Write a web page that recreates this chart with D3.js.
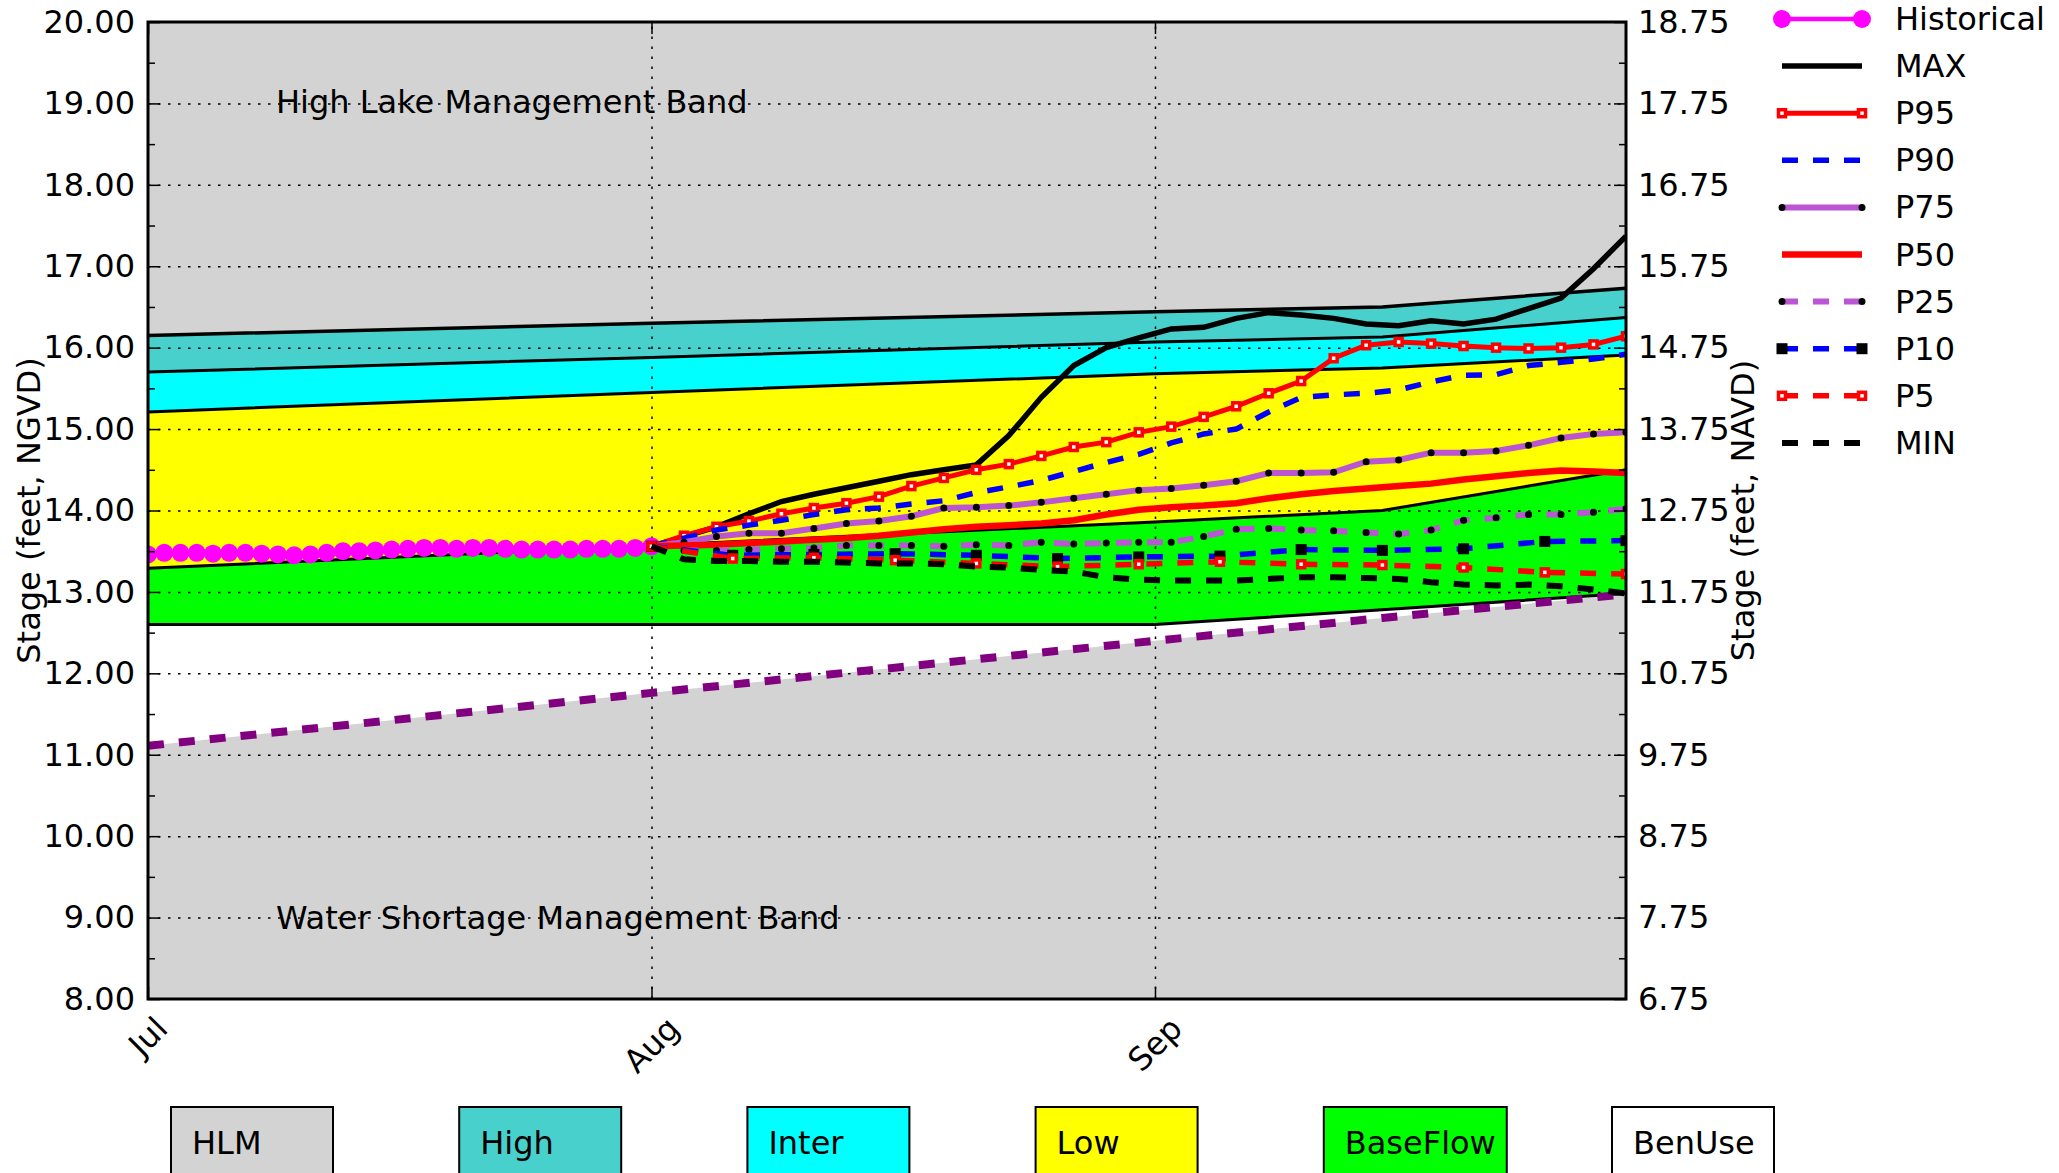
<!DOCTYPE html>
<html>
<head>
<meta charset="utf-8">
<script src="https://cdn.jsdelivr.net/npm/d3@7"></script>
<style>
  body { margin: 0; background: #fff; }
  svg { display: block; font-family: "DejaVu Sans", sans-serif; }
</style>
</head>
<body>
<div id="stage-chart"></div>
<script>
// ---- Data ----
var histStart = new Date(2019, 6, 1);   // Jul 1, daily
var fcstStart = new Date(2019, 7, 1);   // Aug 1

var historical = [13.46, 13.48, 13.48, 13.48, 13.47, 13.48, 13.48, 13.47, 13.46, 13.45, 13.46,
    13.48, 13.50, 13.50, 13.51, 13.52, 13.53, 13.54, 13.54, 13.53, 13.54, 13.54, 13.53, 13.52,
    13.52, 13.52, 13.52, 13.53, 13.53, 13.53, 13.54, 13.56];

// every 2 days from Aug 1
var maxStage = [13.56, 13.68, 13.80, 13.96, 14.11, 14.20, 14.28, 14.36, 14.44, 14.50, 14.56,
    14.92, 15.39, 15.78, 16.00, 16.12, 16.23, 16.25, 16.36, 16.43, 16.40, 16.36, 16.29, 16.27,
    16.33, 16.29, 16.35, 16.48, 16.61, 16.97, 17.37];
var p95 = [13.56, 13.69, 13.80, 13.87, 13.96, 14.03, 14.09, 14.17, 14.30, 14.40, 14.50, 14.57,
    14.67, 14.78, 14.84, 14.96, 15.03, 15.15, 15.28, 15.44, 15.59, 15.87, 16.03, 16.07, 16.05,
    16.02, 16.00, 15.99, 16.00, 16.04, 16.14];
var p90 = [13.56, 13.66, 13.76, 13.82, 13.88, 13.95, 14.01, 14.03, 14.08, 14.12, 14.22, 14.29,
    14.37, 14.48, 14.59, 14.69, 14.83, 14.94, 15.00, 15.21, 15.39, 15.42, 15.44, 15.48, 15.58,
    15.66, 15.67, 15.78, 15.82, 15.86, 15.92];
var p75 = [13.56, 13.61, 13.68, 13.72, 13.72, 13.78, 13.84, 13.87, 13.93, 14.03, 14.04, 14.06,
    14.10, 14.15, 14.20, 14.25, 14.27, 14.31, 14.36, 14.46, 14.46, 14.47, 14.60, 14.62, 14.71,
    14.71, 14.73, 14.80, 14.89, 14.94, 14.96];
var p50 = [13.56, 13.57, 13.58, 13.60, 13.62, 13.64, 13.66, 13.69, 13.73, 13.77, 13.80, 13.82,
    13.84, 13.88, 13.95, 14.01, 14.04, 14.06, 14.09, 14.15, 14.20, 14.24, 14.27, 14.30, 14.33,
    14.38, 14.42, 14.46, 14.49, 14.48, 14.46];
var p25 = [13.56, 13.51, 13.51, 13.52, 13.53, 13.54, 13.57, 13.57, 13.57, 13.56, 13.58, 13.57,
    13.61, 13.59, 13.60, 13.61, 13.61, 13.68, 13.77, 13.78, 13.76, 13.75, 13.73, 13.71, 13.76,
    13.88, 13.91, 13.95, 13.95, 13.98, 14.02];
var minStage = [13.56, 13.40, 13.38, 13.38, 13.37, 13.37, 13.36, 13.35, 13.35, 13.34, 13.31,
    13.30, 13.27, 13.25, 13.18, 13.15, 13.14, 13.14, 13.14, 13.16, 13.18, 13.18, 13.17, 13.16,
    13.12, 13.09, 13.08, 13.09, 13.07, 13.03, 12.98];

// every 5 days from Aug 1
var p10 = [13.56, 13.45, 13.46, 13.47, 13.45, 13.41, 13.43, 13.44, 13.52, 13.51, 13.53, 13.62, 13.63];
var p5 = [13.56, 13.41, 13.42, 13.39, 13.35, 13.31, 13.34, 13.37, 13.34, 13.33, 13.30, 13.24, 13.22];

// band boundaries
var bandDates = ["2019-07-01", "2019-08-01", "2019-09-01", "2019-09-15", "2019-09-30"];
var hlmLine = [16.15, 16.30, 16.44, 16.50, 16.73];
var highLine = [15.70, 15.88, 16.07, 16.13, 16.37];
var interLine = [15.21, 15.45, 15.68, 15.75, 15.91];
var lowLine = [13.29, 13.57, 13.86, 14.00, 14.50];
var baseLine = [12.60, 12.60, 12.60, 12.78, 12.98];
var benUseLine = [11.11, 11.76, 12.40, 12.68, 12.97];

var monthTicks = ["2019-07-01", "2019-08-01", "2019-09-01"];
var monthLabels = ["Jul", "Aug", "Sep"];
var leftTicks = [8, 9, 10, 11, 12, 13, 14, 15, 16, 17, 18, 19, 20];
var rightTicks = [6.75, 7.75, 8.75, 9.75, 10.75, 11.75, 12.75, 13.75, 14.75, 15.75, 16.75, 17.75, 18.75];

var bandNames = ["HLM", "High", "Inter", "Low", "BaseFlow", "BenUse"];
var bandColors = ["#d3d3d3", "#48d1cc", "#00ffff", "#ffff00", "#00ff00", "#ffffff"];

var seriesNames = ["Historical", "MAX", "P95", "P90", "P75", "P50", "P25", "P10", "P5", "MIN"];

// ---- Layout ----
var W = 2059, H = 1173;
var margin = {top: 22, right: 433, bottom: 174, left: 148},
    width = W - margin.left - margin.right,
    height = H - margin.top - margin.bottom;
var FS = 32;

var svg = d3.select("#stage-chart")
    .append("svg")
    .attr("width", W)
    .attr("height", H);

var g = svg.append("g")
    .attr("transform", "translate(" + margin.left + "," + margin.top + ")");

var parse = d3.timeParse("%Y-%m-%d");

var x = d3.scaleTime()
    .domain([parse("2019-07-01"), parse("2019-09-30")])
    .range([0, width]);
var y = d3.scaleLinear().domain([8, 20]).range([height, 0]);
var yR = d3.scaleLinear().domain([6.75, 18.75]).range([height, 0]);

// ---- Bands ----
var bandRows = bandDates.map(function (d, i) {
    return {date: parse(d), lines: [20, hlmLine[i], highLine[i], interLine[i], lowLine[i], baseLine[i], benUseLine[i], 8]};
});
var fillColors = bandColors.concat(["#d3d3d3"]);

fillColors.forEach(function (c, k) {
    var area = d3.area()
        .x(function (d) { return x(d.date); })
        .y0(function (d) { return y(d.lines[k + 1]); })
        .y1(function (d) { return y(d.lines[k]); });
    g.append("path").datum(bandRows).attr("d", area).attr("fill", c).attr("stroke", "none");
});

// grid
g.append("g")
    .call(d3.axisLeft(y).tickValues(leftTicks.slice(1, -1)).tickSize(-width).tickFormat(""))
    .call(function (s) { s.select(".domain").remove(); })
    .selectAll("line")
    .attr("stroke", "#000").attr("stroke-width", 1.5).attr("stroke-dasharray", "2.5,7.5");
g.append("g")
    .attr("transform", "translate(0," + height + ")")
    .call(d3.axisBottom(x).tickValues(monthTicks.slice(1).map(parse)).tickSize(-height).tickFormat(""))
    .call(function (s) { s.select(".domain").remove(); })
    .selectAll("line")
    .attr("stroke", "#000").attr("stroke-width", 1.5).attr("stroke-dasharray", "2.5,7.5");

// boundary lines
[1, 2, 3, 4, 5].forEach(function (k) {
    var line = d3.line()
        .x(function (d) { return x(d.date); })
        .y(function (d) { return y(d.lines[k]); });
    g.append("path").datum(bandRows).attr("d", line)
        .attr("fill", "none").attr("stroke", "#000").attr("stroke-width", k === 1 ? 3.5 : 3);
});
g.append("path").datum(bandRows)
    .attr("d", d3.line().x(function (d) { return x(d.date); }).y(function (d) { return y(d.lines[6]); }))
    .attr("fill", "none").attr("stroke", "#800080").attr("stroke-width", 8).attr("stroke-dasharray", "16,15");

// annotations
g.append("text").attr("x", 128).attr("y", 80).attr("font-size", FS)
    .attr("dominant-baseline", "central").text("High Lake Management Band");
g.append("text").attr("x", 128).attr("y", 896).attr("font-size", FS)
    .attr("dominant-baseline", "central").text("Water Shortage Management Band");

// ---- Series ----
var styles = {
    "Historical": {color: "#ff00ff", w: 4.5, dash: null, marker: "circle"},
    "MAX": {color: "#000", w: 5.5, dash: null, marker: null},
    "P95": {color: "#ff0000", w: 5, dash: null, marker: "sqOpen"},
    "P90": {color: "#0000ff", w: 5.5, dash: "16,15", marker: null},
    "P75": {color: "#ba55d3", w: 6, dash: null, marker: "dot"},
    "P50": {color: "#ff0000", w: 6.5, dash: null, marker: null},
    "P25": {color: "#ba55d3", w: 6, dash: "16,15", marker: "dot"},
    "P10": {color: "#0000ff", w: 5.5, dash: "16,15", marker: "sqBlack"},
    "P5": {color: "#ff0000", w: 5.5, dash: "16,15", marker: "sqOpen"},
    "MIN": {color: "#000", w: 6, dash: "16,15", marker: null}
};

function toPoints(values, start, step) {
    return values.map(function (v, i) {
        return {date: d3.timeDay.offset(start, i * step), value: v};
    });
}

var seriesData = {
    "Historical": toPoints(historical, histStart, 1),
    "MAX": toPoints(maxStage, fcstStart, 2),
    "P95": toPoints(p95, fcstStart, 2),
    "P90": toPoints(p90, fcstStart, 2),
    "P75": toPoints(p75, fcstStart, 2),
    "P50": toPoints(p50, fcstStart, 2),
    "P25": toPoints(p25, fcstStart, 2),
    "P10": toPoints(p10, fcstStart, 5),
    "P5": toPoints(p5, fcstStart, 5),
    "MIN": toPoints(minStage, fcstStart, 2)
};

function drawMarker(sel, type, color) {
    if (type === "circle") {
        sel.append("circle").attr("r", 9).attr("fill", color);
    } else if (type === "dot") {
        sel.append("circle").attr("r", 3.5).attr("fill", "#000");
    } else if (type === "sqOpen") {
        sel.append("rect").attr("x", -3.5).attr("y", -3.5).attr("width", 7).attr("height", 7)
            .attr("fill", "#fff").attr("stroke", color).attr("stroke-width", 3.5);
    } else if (type === "sqBlack") {
        sel.append("rect").attr("x", -5.5).attr("y", -5.5).attr("width", 11).attr("height", 11)
            .attr("fill", "#000");
    }
}

g.append("clipPath").attr("id", "plot-clip")
    .append("rect").attr("width", width).attr("height", height);
var plot = g.append("g").attr("clip-path", "url(#plot-clip)");

var lineGen = d3.line()
    .x(function (d) { return x(d.date); })
    .y(function (d) { return y(d.value); });

seriesNames.forEach(function (name) {
    var st = styles[name];
    plot.append("path").datum(seriesData[name])
        .attr("d", lineGen)
        .attr("fill", "none")
        .attr("stroke", st.color)
        .attr("stroke-width", st.w)
        .attr("stroke-dasharray", st.dash);
    if (st.marker) {
        plot.selectAll(null).data(seriesData[name]).enter()
            .append("g")
            .attr("transform", function (d) { return "translate(" + x(d.date) + "," + y(d.value) + ")"; })
            .each(function () { drawMarker(d3.select(this), st.marker, st.color); });
    }
});

// ---- Axes ----
var minorLeft = d3.range(8.5, 20, 1);
var minorRight = d3.range(7.25, 18.75, 1);

function styleAxis(s) {
    s.select(".domain").remove();
    s.selectAll("line").attr("stroke", "#000").attr("stroke-width", 1.5);
    s.selectAll("text").attr("font-size", FS).attr("fill", "#000").attr("font-family", "DejaVu Sans");
}

g.append("g")
    .call(d3.axisLeft(y).tickValues(leftTicks).tickSize(-12).tickPadding(13)
        .tickFormat(d3.format(".2f")))
    .call(styleAxis);
g.append("g")
    .call(d3.axisLeft(y).tickValues(minorLeft).tickSize(-7).tickFormat(""))
    .call(styleAxis);
g.append("g")
    .attr("transform", "translate(" + width + ",0)")
    .call(d3.axisRight(yR).tickValues(rightTicks).tickSize(-12).tickPadding(12)
        .tickFormat(d3.format(".2f")))
    .call(styleAxis);
g.append("g")
    .attr("transform", "translate(" + width + ",0)")
    .call(d3.axisRight(yR).tickValues(minorRight).tickSize(-7).tickFormat(""))
    .call(styleAxis);
g.append("g")
    .attr("transform", "translate(0," + height + ")")
    .call(d3.axisBottom(x).tickValues(monthTicks.map(parse)).tickSize(-12).tickFormat(""))
    .call(styleAxis);
g.append("g")
    .call(d3.axisTop(x).tickValues(monthTicks.map(parse)).tickSize(-12).tickFormat(""))
    .call(styleAxis);

// rotated month labels
monthTicks.forEach(function (m, i) {
    var t = g.append("text")
        .attr("font-size", FS)
        .attr("text-anchor", "middle")
        .attr("dominant-baseline", "central")
        .text(monthLabels[i]);
    var w = t.node().getComputedTextLength();
    var off = (w + FS * 1.05) / (2 * Math.SQRT2);
    t.attr("transform", "translate(" + x(parse(m)) + "," + (height + 12 + off) + ") rotate(-45)");
});

// frame
g.append("rect").attr("width", width).attr("height", height)
    .attr("fill", "none").attr("stroke", "#000").attr("stroke-width", 3);

// axis titles
svg.append("text")
    .attr("transform", "translate(29," + (margin.top + height / 2) + ") rotate(-90)")
    .attr("text-anchor", "middle").attr("dominant-baseline", "central")
    .attr("font-size", FS).text("Stage (feet, NGVD)");
svg.append("text")
    .attr("transform", "translate(1743," + (margin.top + height / 2) + ") rotate(-90)")
    .attr("text-anchor", "middle").attr("dominant-baseline", "central")
    .attr("font-size", FS).text("Stage (feet, NAVD)");

// ---- Series legend ----
var legend = svg.append("g").attr("transform", "translate(1782,19)");
seriesNames.forEach(function (name, i) {
    var st = styles[name];
    var row = legend.append("g").attr("transform", "translate(0," + (i * 47.1) + ")");
    row.append("line").attr("x1", 0).attr("x2", 80)
        .attr("stroke", st.color).attr("stroke-width", st.w)
        .attr("stroke-dasharray", st.dash);
    if (st.marker) {
        [0, 80].forEach(function (px) {
            var m = row.append("g").attr("transform", "translate(" + px + ",0)");
            drawMarker(m, st.marker, st.color);
        });
    }
    row.append("text").attr("x", 113).attr("dominant-baseline", "central")
        .attr("font-size", FS).text(name);
});

// ---- Band legend boxes ----
bandNames.forEach(function (name, i) {
    var bx = 171 + i * 288.2;
    var box = svg.append("g").attr("transform", "translate(" + bx + ",1107)");
    var rect = box.append("rect").attr("height", 100)
        .attr("fill", bandColors[i]).attr("stroke", "#000").attr("stroke-width", 2);
    var t = box.append("text").attr("x", 21).attr("y", 47).attr("font-size", FS).text(name);
    var tw = t.node().getComputedTextLength();
    rect.attr("width", Math.max(162, tw + 32));
});
</script>
</body>
</html>
